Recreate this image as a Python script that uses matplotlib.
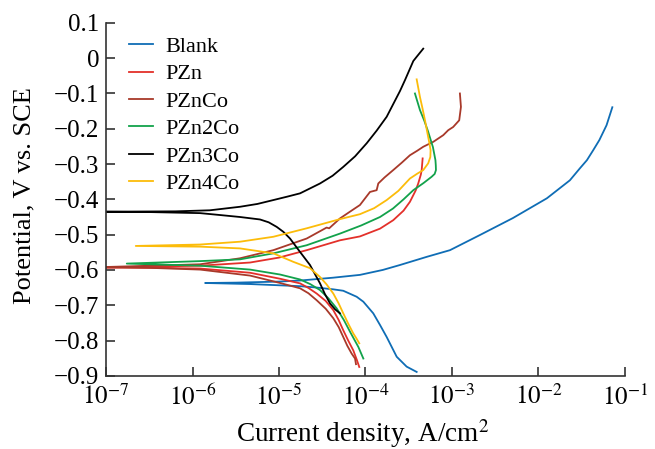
import numpy as np
import matplotlib
matplotlib.use("Agg")
import matplotlib.pyplot as plt

plt.rcParams['font.family'] = ['Liberation Serif', 'DejaVu Serif']
plt.rcParams['mathtext.fontset'] = 'stix'

# log10 of current density (A/cm2) and potential (V vs. SCE)
# each curve: cathodic branch (from bottom up to Ecorr) then anodic branch
blank_logi = [-3.408, -3.524, -3.639, -3.697, -3.755, -3.832, -3.910, -4.025, -4.102, -4.257, -4.372,
              -4.560, -4.757, -5.335, -5.855,
              -5.500, -5.000, -4.757, -4.376, -4.064, -3.800, -3.601, -3.293, -3.023, -2.676,
              -2.295, -1.902, -1.636, -1.520, -1.439, -1.367, -1.295, -1.212, -1.145]
blank_E = [-0.889, -0.874, -0.846, -0.818, -0.790, -0.756, -0.723, -0.690, -0.676, -0.659, -0.655,
           -0.650, -0.646, -0.640, -0.637,
           -0.636, -0.633, -0.630, -0.622, -0.614, -0.600, -0.586, -0.563, -0.544, -0.501,
           -0.453, -0.397, -0.346, -0.312, -0.289, -0.261, -0.232, -0.190, -0.139]

pzn_logi = [-4.072, -4.100, -4.141, -4.200, -4.257, -4.310, -4.372, -4.460, -4.564, -4.660, -4.757,
            -4.988, -5.335, -5.913, -6.500, -7.050,
            -5.913, -5.335, -5.000, -4.680, -4.295, -4.064, -3.832, -3.679, -3.560, -3.486,
            -3.420, -3.390, -3.360, -3.350, -3.339]
pzn_E = [-0.875, -0.855, -0.828, -0.800, -0.771, -0.742, -0.714, -0.688, -0.667, -0.651, -0.638,
         -0.625, -0.608, -0.596, -0.594, -0.593,
         -0.588, -0.579, -0.565, -0.544, -0.516, -0.505, -0.483, -0.459, -0.432, -0.407,
         -0.375, -0.355, -0.330, -0.317, -0.284]

pznco_logi = [-4.110, -4.121, -4.160, -4.210, -4.257, -4.310, -4.372, -4.460, -4.564, -4.660, -4.757,
              -4.988, -5.335, -5.913, -6.500, -7.050,
              -5.913, -5.451, -5.066, -4.680, -4.450, -4.420, -4.295, -4.180, -4.064, -3.948,
              -3.871, -3.852, -3.780, -3.679, -3.580, -3.486, -3.400, -3.332, -3.216, -3.100,
              -3.043, -2.986, -2.916, -2.896, -2.908]
pznco_E = [-0.867, -0.851, -0.837, -0.815, -0.790, -0.762, -0.737, -0.710, -0.686, -0.666, -0.652,
           -0.637, -0.616, -0.599, -0.594, -0.592,
           -0.584, -0.567, -0.544, -0.511, -0.480, -0.482, -0.454, -0.435, -0.416, -0.379,
           -0.374, -0.355, -0.338, -0.317, -0.296, -0.275, -0.262, -0.251, -0.237, -0.218,
           -0.204, -0.195, -0.176, -0.138, -0.100]

pzn2co_logi = [-4.025, -4.083, -4.130, -4.179, -4.250, -4.333, -4.430, -4.526, -4.640, -4.757,
               -4.988, -5.335, -5.913, -6.761,
               -5.913, -5.451, -5.066, -4.680, -4.295, -4.050, -3.832, -3.682, -3.560, -3.447,
               -3.330, -3.235, -3.200, -3.185, -3.187, -3.191, -3.220, -3.277, -3.320, -3.370, -3.428]
pzn2co_E = [-0.851, -0.818, -0.797, -0.775, -0.742, -0.709, -0.680, -0.657, -0.640, -0.627,
            -0.613, -0.599, -0.588, -0.582,
            -0.575, -0.570, -0.553, -0.530, -0.497, -0.474, -0.450, -0.426, -0.400, -0.374,
            -0.354, -0.336, -0.328, -0.317, -0.303, -0.289, -0.252, -0.207, -0.177, -0.147, -0.100]

pzn3co_logi = [-4.295, -4.350, -4.410, -4.470, -4.526, -4.642, -4.757, -4.873, -4.950, -5.027,
               -5.120, -5.220, -5.451, -5.700, -5.913, -6.500, -7.050,
               -6.200, -5.800, -5.451, -5.250, -5.066, -4.900, -4.757, -4.526, -4.380, -4.257,
               -4.120, -3.986, -3.870, -3.755, -3.601, -3.543, -3.447, -3.408, -3.332]
pzn3co_E = [-0.723, -0.712, -0.695, -0.668, -0.638, -0.586, -0.549, -0.511, -0.492, -0.478,
            -0.465, -0.457, -0.450, -0.444, -0.439, -0.436, -0.435,
            -0.434, -0.431, -0.421, -0.413, -0.402, -0.392, -0.383, -0.355, -0.333, -0.308,
            -0.278, -0.241, -0.205, -0.166, -0.093, -0.062, -0.008, 0.004, 0.027]

pzn4co_logi = [-4.072, -4.105, -4.141, -4.200, -4.257, -4.310, -4.372, -4.450, -4.526, -4.642,
               -4.835, -5.066, -5.451, -5.913, -6.657,
               -5.913, -5.451, -5.066, -4.680, -4.295, -4.064, -3.900, -3.755, -3.620, -3.486,
               -3.400, -3.332, -3.275, -3.250, -3.247, -3.260, -3.275, -3.312, -3.340, -3.370, -3.408]
pzn4co_E = [-0.808, -0.794, -0.780, -0.752, -0.723, -0.695, -0.667, -0.641, -0.620, -0.595,
            -0.577, -0.553, -0.539, -0.534, -0.532,
            -0.528, -0.520, -0.506, -0.482, -0.456, -0.442, -0.425, -0.402, -0.376, -0.341,
            -0.327, -0.317, -0.298, -0.280, -0.261, -0.242, -0.223, -0.176, -0.143, -0.110, -0.060]

labels = ['Blank', 'PZn', 'PZnCo', 'PZn2Co', 'PZn3Co', 'PZn4Co']
colors = ['#0f6db5', '#e3302a', '#a8392a', '#12a24b', '#000000', '#fcbc0a']
series = [(blank_logi, blank_E), (pzn_logi, pzn_E), (pznco_logi, pznco_E),
          (pzn2co_logi, pzn2co_E), (pzn3co_logi, pzn3co_E), (pzn4co_logi, pzn4co_E)]

fig = plt.figure(figsize=(6.55, 4.49), dpi=100)
ax = fig.add_axes([0.162, 0.163, 0.792, 0.786])

for (li, e), lab, c in zip(series, labels, colors):
    ax.plot(10 ** np.array(li), e, color=c, lw=1.3, label=lab, solid_joinstyle='round')

ax.set_xscale('log')
ax.set_xlim(1e-7, 1e-1)
ax.set_ylim(-0.9, 0.1)
ax.set_xticks([10.0 ** k for k in range(-7, 0)])
ax.set_xticklabels([r'$10^{%d}$' % k for k in range(-7, 0)])
ax.minorticks_off()
yt = np.round(np.arange(-0.9, 0.11, 0.1), 1)
ax.set_yticks(yt)
ax.set_yticklabels(['0' if v == 0 else ('%.1f' % v).replace('-', '\u2212') for v in yt])

for s in ['top', 'right']:
    ax.spines[s].set_visible(False)
for s in ['left', 'bottom']:
    ax.spines[s].set_color('#333333')
    ax.spines[s].set_linewidth(1.2)
ax.tick_params(direction='in', length=6.5, width=1.2, color='#333333', labelsize=18)
ax.tick_params(axis='x', pad=6)
ax.tick_params(axis='y', pad=5)

ax.set_xlabel('Current density, A/cm$^2$', fontsize=19.5)
ax.xaxis.set_label_coords(0.495, -0.118)
ax.set_ylabel('Potential, V vs. SCE', fontsize=19)
ax.yaxis.set_label_coords(-0.137, 0.51)

ax.legend(loc='upper left', bbox_to_anchor=(0.045, 0.962), frameon=False, fontsize=16,
          handlelength=1.05, handletextpad=0.55, labelspacing=0.31, borderpad=0, borderaxespad=0)

fig.savefig('out.png', dpi=100)
